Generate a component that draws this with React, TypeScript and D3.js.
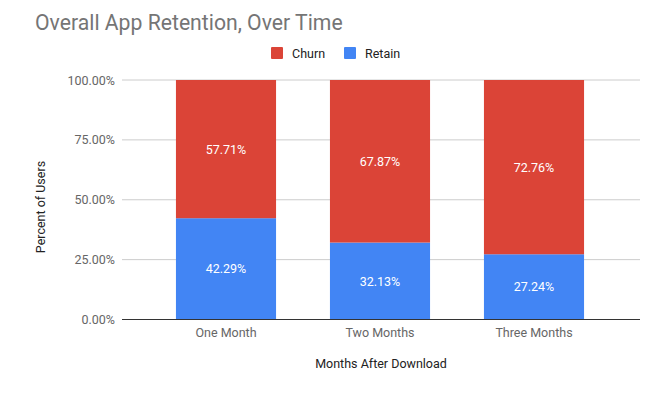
import React from "react";
import * as d3 from "d3";

const categories = ["One Month", "Two Months", "Three Months"];
const churn = [57.71, 67.87, 72.76];
const retain = [42.29, 32.13, 27.24];
const yTicks = [0, 25, 50, 75, 100];
const seriesNames = ["Churn", "Retain"];
const seriesColors = ["#db4437", "#4285f4"];

export default function App() {
  const W = 664, H = 393;
  const plotL = 122, plotR = 640, top = 80, bottom = 319.5;
  const x = d3.scaleBand<string>().domain(categories).range([149, 611]).paddingInner(0.35).paddingOuter(0.175);
  const y = d3.scaleLinear().domain([0, 100]).range([bottom, top]);
  const font = "Roboto, 'Noto Sans', sans-serif";
  const rows = categories.map((c, i) => ({ c, retain: retain[i], churn: churn[i] }));
  const stack = d3.stack<any>().keys(["retain", "churn"])(rows);
  const colorFor: Record<string, string> = { churn: seriesColors[0], retain: seriesColors[1] };
  return (
    <svg width={W} height={H} style={{ position: "absolute", left: 0, top: 0, background: "#fff" }} fontFamily={font}>
      <text x={35} y={30} fontSize={21.2} fill="#757575">Overall App Retention, Over Time</text>
      {seriesNames.map((n, i) => {
        const lx = [271, 344][i];
        return (
          <g key={n}>
            <rect x={lx} y={47} width={12} height={12} rx={1} fill={seriesColors[i]} />
            <text x={lx + 21} y={57.5} fontSize={12.5} fill="#222">{n}</text>
          </g>
        );
      })}
      {yTicks.map((t) => (
        <g key={t}>
          {t !== 0 && <line x1={plotL} x2={plotR} y1={y(t)} y2={y(t)} stroke="#cccccc" strokeWidth={1} />}
          <text x={115} y={y(t) + 4.5} textAnchor="end" fontSize={12.5} fill="#666">{d3.format(".2f")(t) + "%"}</text>
        </g>
      ))}
      {stack.map((s) => (
        <g key={s.key}>
          {s.map((d, i) => {
            const x0 = x(categories[i])!;
            const y0 = y(d[1]), y1 = y(d[0]);
            return (
              <g key={i}>
                <rect x={x0} y={y0} width={x.bandwidth()} height={y1 - y0} fill={colorFor[s.key]} />
                <text x={x0 + x.bandwidth() / 2} y={(y0 + y1) / 2 + 4.5} textAnchor="middle" fontSize={12.5} fill="#fff">
                  {d3.format(".2f")(d[1] - d[0]) + "%"}
                </text>
              </g>
            );
          })}
        </g>
      ))}
      <line x1={plotL} x2={plotR} y1={bottom} y2={bottom} stroke="#333" strokeWidth={1} />
      {categories.map((c) => (
        <text key={c} x={x(c)! + x.bandwidth() / 2} y={337} textAnchor="middle" fontSize={12.5} fill="#666">{c}</text>
      ))}
      <text x={381} y={368} textAnchor="middle" fontSize={12.5} fill="#222">Months After Download</text>
      <text transform={`translate(45, 207) rotate(-90)`} textAnchor="middle" fontSize={12.5} fill="#222">Percent of Users</text>
    </svg>
  );
}
